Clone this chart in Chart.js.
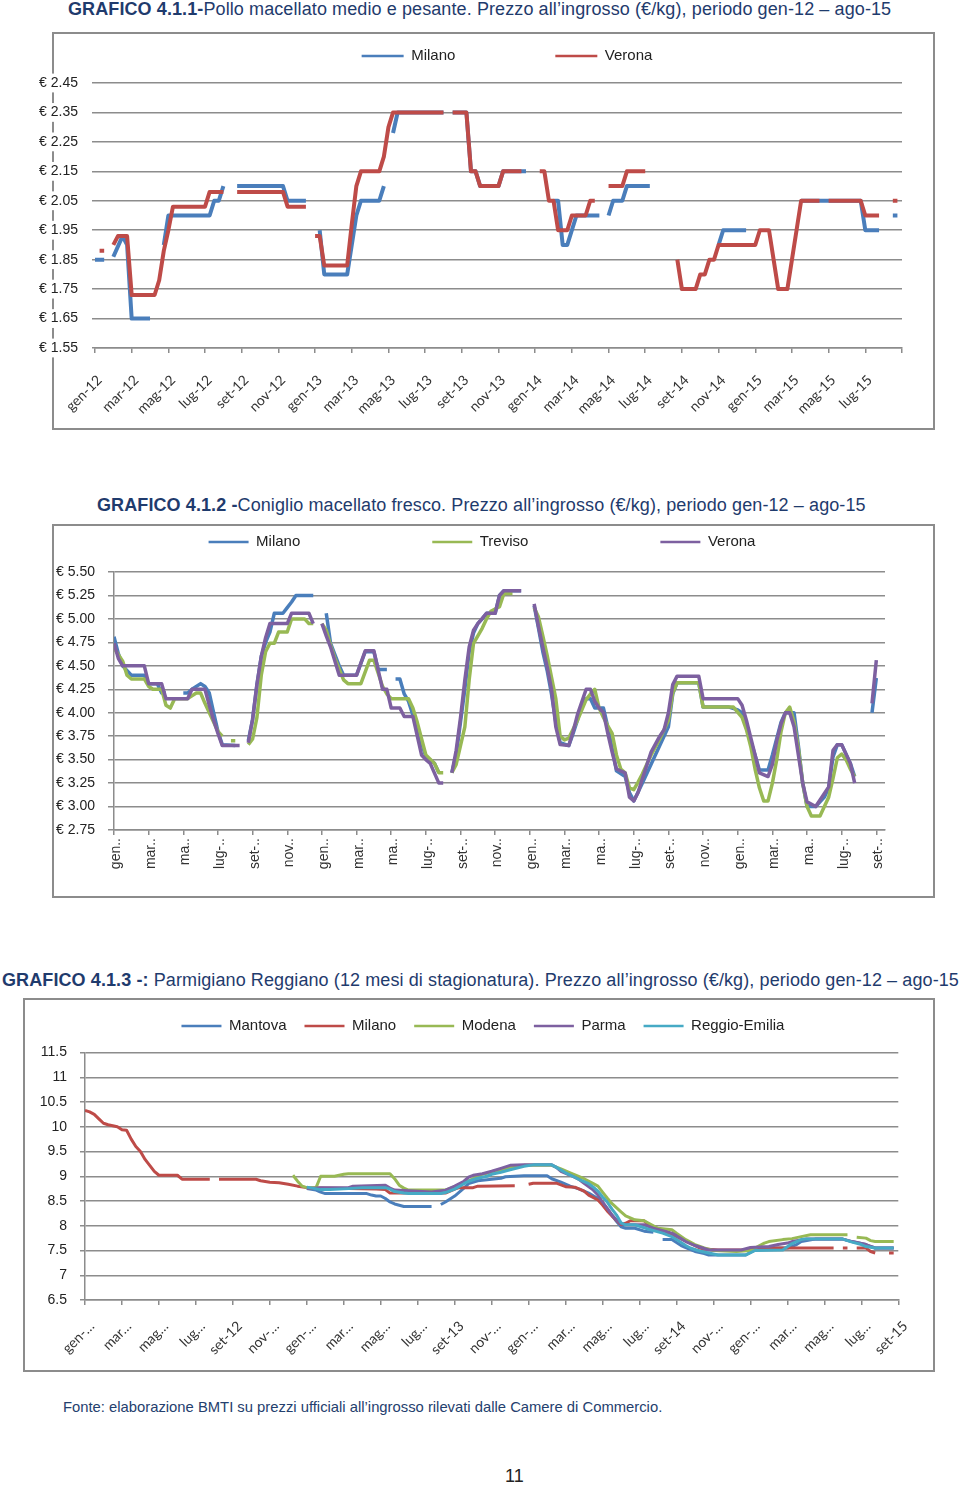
<!DOCTYPE html>
<html lang="it">
<head>
<meta charset="utf-8">
<title>Grafici 4.1.1 - 4.1.3</title>
<script src="https://cdn.jsdelivr.net/npm/chart.js@4.4.1/dist/chart.umd.min.js"></script>
<style>
  body { margin: 0; width: 960px; height: 1486px; position: relative; background: #fff;
         font-family: "Liberation Sans", Arial, sans-serif; }
  .titolo { position: absolute; font-size: 18px; letter-spacing: 0.1px; line-height: 20px; color: #1f3b6d; white-space: nowrap; }
  .riquadro { position: absolute; border: 2px solid #8c8c8c; box-sizing: border-box; }
  canvas { position: absolute; }
  .fonte { position: absolute; left: 63px; top: 1398px; font-size: 14.8px; line-height: 18px; color: #24406e; white-space: nowrap; }
  .pagina { position: absolute; left: 505px; top: 1465px; font-size: 18px; line-height: 22px; color: #222; }
</style>
</head>
<body>

<div class="titolo" style="left:68px;top:-1px"><b>GRAFICO 4.1.1-</b>Pollo macellato medio e pesante. Prezzo all’ingrosso (€/kg), periodo gen-12 – ago-15</div>
<div class="riquadro" style="left:52px;top:32px;width:883px;height:398px"></div>
<canvas id="grafico1" width="903" height="394" style="left:30px;top:34px"></canvas>

<div class="titolo" style="left:97px;top:495px"><b>GRAFICO 4.1.2 -</b>Coniglio macellato fresco. Prezzo all’ingrosso (€/kg), periodo gen-12 – ago-15</div>
<div class="riquadro" style="left:52px;top:524px;width:883px;height:374px"></div>
<canvas id="grafico2" width="879" height="370" style="left:54px;top:526px"></canvas>

<div class="titolo" style="left:2px;top:970px"><b>GRAFICO 4.1.3 -:</b> Parmigiano Reggiano (12 mesi di stagionatura). Prezzo all’ingrosso (€/kg), periodo gen-12 – ago-15</div>
<div class="riquadro" style="left:23px;top:998px;width:912px;height:374px"></div>
<canvas id="grafico3" width="908" height="370" style="left:25px;top:1000px"></canvas>

<div class="fonte">Fonte: elaborazione BMTI su prezzi ufficiali all’ingrosso rilevati dalle Camere di Commercio.</div>
<div class="pagina">11</div>

<script>
// asse x in settimane da gen-12 (4 settimane per mese); coppie [settimana, €/kg], null = dato mancante

const mesiG1 = ['gen-12', 'mar-12', 'mag-12', 'lug-12', 'set-12', 'nov-12',
  'gen-13', 'mar-13', 'mag-13', 'lug-13', 'set-13', 'nov-13',
  'gen-14', 'mar-14', 'mag-14', 'lug-14', 'set-14', 'nov-14',
  'gen-15', 'mar-15', 'mag-15', 'lug-15'];
const mesiG2 = ['gen..', 'mar..', 'ma..', 'lug-..', 'set-..', 'nov..',
  'gen..', 'mar..', 'ma..', 'lug-..', 'set-..', 'nov..',
  'gen..', 'mar..', 'ma..', 'lug-..', 'set-..', 'nov..',
  'gen..', 'mar..', 'ma..', 'lug-..', 'set-..'];
const mesiG3 = ['gen-…', 'mar…', 'mag…', 'lug…', 'set-12', 'nov-…',
  'gen-…', 'mar…', 'mag…', 'lug…', 'set-13', 'nov-…',
  'gen-…', 'mar…', 'mag…', 'lug…', 'set-14', 'nov-…',
  'gen-…', 'mar…', 'mag…', 'lug…', 'set-15'];

// GRAFICO 4.1.1 - pollo
const polloMilano = [[0,1.85],[2,1.85],[3,null],[4,1.86],[6,1.93],[7,1.90],[8,1.65],[12,1.65],[13,null],
  [15,1.90],[16,2.00],[25,2.00],[26,2.05],[27,2.05],[28,2.10],[29,null],
  [31,2.10],[41,2.10],[42,2.05],[46,2.05],[47,null],
  [49,1.95],[50,1.80],[55,1.80],[57,2.00],[58,2.05],[62,2.05],[63,2.10],[64,null],
  [65,2.28],[66,2.35],[76,2.35],[77,null],[78,2.35],[81,2.35],[82,2.15],[83,2.15],[84,2.10],[88,2.10],[89,2.15],[94,2.15],[95,null],
  [100,2.05],[101,2.05],[102,1.90],[103,1.90],[105,2.00],[110,2.00],[111,null],
  [112,2.00],[113,2.05],[115,2.05],[116,2.10],[121,2.10],[122,null],
  [136,1.90],[137,1.95],[142,1.95],[143,null],
  [154,2.05],[167,2.05],[168,1.95],[171,1.95],[172,null],[174,2.00],[175,2.00]];
const polloVerona = [[1,1.88],[2,1.88],[3,null],[4,1.90],[5,1.93],[7,1.93],[8,1.73],[13,1.73],[14,1.78],[15,1.88],[16,1.95],[17,2.03],[24,2.03],[25,2.08],[28,2.08],[29,null],
  [31,2.08],[41,2.08],[42,2.03],[46,2.03],[47,null],
  [48,1.93],[49,1.93],[50,1.83],[55,1.83],[56,1.97],[57,2.10],[58,2.15],[62,2.15],[63,2.20],[64,2.30],[65,2.35],[76,2.35],[77,null],
  [78,2.35],[81,2.35],[82,2.15],[83,2.15],[84,2.10],[88,2.10],[89,2.15],[93,2.15],[94,null],
  [97,2.15],[98,2.15],[99,2.05],[100,2.05],[101,1.95],[103,1.95],[104,2.00],[107,2.00],[108,2.05],[109,2.05],[110,null],
  [112,2.10],[115,2.10],[116,2.15],[120,2.15],[121,null],
  [127,1.85],[128,1.75],[131,1.75],[132,1.80],[133,1.80],[134,1.85],[135,1.85],[136,1.90],[144,1.90],[145,1.95],[147,1.95],[148,1.85],[149,1.75],[151,1.75],[152,1.85],[153,1.95],[154,2.05],[158,2.05],[159,null],
  [160,2.05],[167,2.05],[168,2.00],[171,2.00],[172,null],[174,2.05],[175,2.05]];

// GRAFICO 4.1.2 - coniglio
const coniglioMilano = [[0,4.81],[1,4.63],[2,4.50],[4,4.40],[7,4.40],[8,4.31],[10,4.31],[11,4.21],[12,4.21],[13,null],
  [16,4.21],[17,4.21],[18,4.25],[20,4.31],[21,4.28],[22,4.21],[23,4.00],[24,3.80],[25,3.66],[28,3.65],[29,null],
  [31,3.70],[32,3.93],[33,4.30],[34,4.60],[35,4.75],[36,4.86],[37,5.06],[39,5.06],[40,5.12],[41,5.18],[42,5.25],[46,5.25],[47,null],
  [49,5.06],[50,4.74],[51,4.62],[52,4.50],[53,4.40],[56,4.40],[58,4.65],[60,4.65],[61,4.46],[63,4.46],[64,null],
  [65,4.36],[66,4.36],[67,4.20],[68,4.12],[70,3.83],[72,3.53],[74,3.46],[75,3.36],[76,null],
  [78,3.36],[79,3.55],[80,3.90],[81,4.25],[82,4.65],[83,4.85],[84,4.95],[85,5.00],[86,5.06],[88,5.06],[89,5.25],[90,5.30],[94,5.30],[95,null],
  [97,5.14],[98,4.90],[99,4.65],[100,4.45],[101,4.20],[102,3.90],[103,3.68],[105,3.65],[106,3.78],[107,3.92],[108,4.10],[109,4.15],[110,4.15],[111,4.05],[113,4.05],
  [114,3.85],[115,3.62],[116,3.38],[118,3.32],[119,3.15],[120,3.06],[122,3.25],[124,3.45],[126,3.65],[128,3.85],[129,4.20],[130,4.32],[135,4.32],[136,4.06],[142,4.06],
  [144,4.03],[145,4.00],[146,3.85],[148,3.55],[149,3.39],[151,3.39],[152,3.55],[154,3.90],[155,4.00],[157,4.00],[158,3.65],[159,3.25],[160,3.00],[162,3.00],
  [164,3.10],[165,3.20],[166,3.53],[167,3.66],[168,3.66],[170,3.46],[171,3.32],[172,null],[175,4.00],[176,4.37]];
const coniglioTreviso = [[0,4.69],[2,4.55],[3,4.40],[4,4.36],[7,4.36],[8,4.28],[9,4.25],[11,4.25],[12,4.08],[13,4.05],[14,4.15],[17,4.15],[19,4.21],[20,4.21],[21,4.10],[23,3.90],[24,3.80],[25,3.75],[26,null],
  [27,3.70],[28,3.70],[29,null],
  [31,3.66],[32,3.72],[33,3.95],[34,4.40],[35,4.65],[36,4.74],[37,4.74],[38,4.86],[40,4.86],[41,5.00],[44,5.00],[45,4.95],[46,4.95],[47,null],
  [48,4.95],[49,4.88],[50,4.72],[51,4.58],[53,4.35],[54,4.31],[57,4.31],[59,4.56],[60,4.56],[61,4.42],[62,4.28],[63,4.20],[64,4.15],[68,4.15],[69,4.05],[70,3.90],[72,3.55],[74,3.46],[75,3.36],[76,3.36],[77,null],
  [78,3.36],[79,3.45],[80,3.65],[81,3.85],[82,4.35],[83,4.74],[84,4.82],[85,4.90],[86,5.00],[87,5.08],[89,5.13],[90,5.27],[92,5.27],[93,null],
  [97,5.12],[98,5.02],[99,4.82],[100,4.61],[101,4.38],[102,4.15],[103,3.75],[104,3.71],[105,3.73],[107,3.92],[109,4.14],[110,4.20],[111,4.25],[112,4.05],[113,3.95],
  [114,3.86],[115,3.78],[116,3.55],[117,3.40],[118,3.36],[119,3.20],[120,3.18],[121,3.26],[122,3.35],[124,3.55],[126,3.72],[128,3.92],[129,4.21],[130,4.32],[135,4.32],
  [136,4.06],[143,4.06],[145,3.95],[146,3.82],[147,3.64],[148,3.40],[149,3.20],[150,3.06],[151,3.06],[152,3.25],[153,3.50],[154,3.80],[155,4.00],[156,4.06],
  [157,3.90],[158,3.62],[159,3.25],[160,3.00],[161,2.90],[163,2.90],[164,3.00],[165,3.10],[166,3.30],[167,3.52],[168,3.56],[169,3.50],[170,3.40],[171,3.32]];
const coniglioVerona = [[0,4.74],[1,4.58],[2,4.50],[7,4.50],[8,4.31],[11,4.31],[12,4.15],[17,4.15],[18,4.25],[21,4.25],[22,4.08],[23,3.92],[24,3.78],[25,3.65],[29,3.65],[30,null],
  [31,3.68],[32,3.93],[33,4.30],[34,4.60],[35,4.80],[36,4.95],[40,4.95],[41,5.06],[45,5.06],[46,4.95],[47,null],
  [48,4.95],[49,4.82],[50,4.70],[52,4.40],[56,4.40],[58,4.66],[60,4.66],[62,4.25],[63,4.25],[64,4.05],[66,4.05],[67,3.96],[69,3.96],[71,3.55],[72,3.50],[73,3.46],[75,3.25],[76,3.25],[77,null],
  [78,3.36],[79,3.60],[80,3.95],[81,4.35],[82,4.70],[83,4.88],[84,4.95],[86,5.06],[88,5.06],[89,5.25],[90,5.30],[94,5.30],[95,null],
  [97,5.16],[98,4.92],[99,4.70],[100,4.49],[101,4.25],[102,3.85],[103,3.66],[105,3.65],[106,3.80],[107,3.98],[109,4.25],[110,4.25],[111,4.12],[112,4.05],[113,4.00],
  [114,3.78],[115,3.58],[116,3.40],[118,3.36],[119,3.10],[120,3.06],[121,3.15],[122,3.30],[124,3.58],[126,3.75],[127,3.82],[128,4.00],[129,4.30],[130,4.39],[135,4.39],
  [136,4.15],[144,4.15],[145,4.08],[146,3.92],[148,3.55],[149,3.36],[151,3.32],[152,3.45],[153,3.70],[154,3.88],[155,4.00],[156,4.00],[157,3.85],[158,3.55],[159,3.25],
  [160,3.05],[162,3.00],[164,3.14],[165,3.21],[166,3.60],[167,3.66],[168,3.66],[170,3.46],[171,3.25],[172,null],[175,4.10],[176,4.56]];

// GRAFICO 4.1.3 - parmigiano reggiano
const parmigianoMantova = [[48,8.75],[50,8.72],[51,8.68],[52,8.65],[61,8.65],[62,8.62],[63,8.60],[64,8.60],[65,8.55],[66,8.48],[67,8.44],[69,8.39],[75,8.39],[76,null],
  [77,8.43],[78,8.48],[80,8.60],[81,8.68],[82,8.76],[83,8.85],[85,8.91],[88,8.94],[90,8.96],[91,8.99],[95,9.01],[100,9.01],[101,8.95],[103,8.88],[105,8.80],[107,8.74],
  [109,8.66],[111,8.55],[112,8.46],[113,8.35],[114,8.22],[115,8.09],[116,7.98],[117,7.95],[119,7.95],[121,7.89],[123,7.87],[124,null],
  [125,7.72],[127,7.72],[129,7.60],[130,7.56],[132,7.48],[134,7.44],[135,7.41],[143,7.41],[144,7.46],[145,7.51],[147,7.55],[152,7.55],[154,7.62],[155,7.68],[158,7.73],
  [164,7.73],[166,7.68],[168,7.64],[169,7.62],[170,7.58],[171,7.55],[175,7.55]];
const parmigianoMilano = [[0,10.33],[1,10.30],[2,10.25],[3,10.16],[4,10.07],[5,10.04],[6,10.02],[7,10.00],[8,9.94],[9,9.93],[10,9.75],[11,9.60],[12,9.50],[13,9.34],[14,9.22],[15,9.10],[16,9.02],[20,9.02],[21,8.94],[27,8.94],[28,null],
  [29,8.94],[37,8.94],[38,8.91],[40,8.88],[42,8.87],[44,8.84],[46,8.80],[48,8.77],[63,8.74],[65,8.73],[66,8.66],[78,8.66],[80,8.74],[81,8.77],[84,8.77],[85,8.80],[93,8.81],[94,null],
  [96,8.84],[97,8.86],[102,8.86],[104,8.79],[106,8.78],[108,8.70],[109,8.62],[111,8.52],[112,8.42],[113,8.30],[114,8.20],[116,8.02],[117,8.05],[118,8.10],[121,8.10],
  [122,8.02],[123,7.95],[125,7.92],[126,7.87],[128,7.78],[131,7.65],[133,7.55],[134,7.53],[137,7.51],[145,7.51],[146,7.55],[162,7.55],[163,null],
  [164,7.55],[165,7.55],[166,null],[167,7.55],[169,7.55],[170,7.48],[171,7.45],[172,null],[174,7.45],[175,7.45]];
const parmigianoModena = [[45,9.02],[46,8.90],[47,8.80],[48,8.77],[50,8.77],[51,9.00],[54,9.00],[56,9.04],[57,9.05],[66,9.05],[67,8.95],[68,8.82],[69,8.76],[70,8.72],[78,8.72],
  [80,8.79],[82,8.86],[84,8.95],[86,9.04],[88,9.08],[90,9.12],[92,9.18],[95,9.22],[101,9.22],[103,9.15],[105,9.07],[108,8.95],[110,8.85],[111,8.80],[112,8.68],[113,8.56],
  [114,8.45],[116,8.28],[117,8.20],[119,8.12],[121,8.10],[122,8.05],[124,7.95],[127,7.92],[128,7.85],[130,7.72],[132,7.62],[134,7.55],[136,7.50],[141,7.48],[144,7.50],
  [145,7.55],[147,7.65],[148,7.68],[151,7.72],[153,7.74],[155,7.78],[157,7.82],[165,7.82],[166,null],[167,7.77],[169,7.75],[170,7.70],[171,7.68],[175,7.68]];
const parmigianoParma = [[48,8.75],[51,8.77],[57,8.77],[58,8.80],[65,8.82],[66,8.76],[67,8.72],[75,8.68],[78,8.72],[80,8.80],[82,8.90],[83,8.98],[84,9.02],[86,9.05],[88,9.10],
  [90,9.16],[92,9.22],[95,9.23],[101,9.23],[102,9.18],[103,9.10],[105,9.02],[107,8.93],[108,8.86],[110,8.72],[111,8.62],[112,8.48],[113,8.35],[114,8.22],[115,8.12],
  [116,8.04],[117,8.02],[121,8.02],[123,7.95],[125,7.90],[127,7.85],[128,7.80],[129,7.74],[130,7.68],[132,7.60],[134,7.54],[135,7.51],[142,7.51],[144,7.56],[148,7.58],
  [150,7.62],[152,7.65],[153,7.68],[156,7.73],[164,7.73],[166,7.68],[169,7.62],[171,7.55],[175,7.55]];
const parmigianoReggio = [[48,8.78],[51,8.73],[53,8.73],[57,8.75],[60,8.77],[65,8.77],[66,8.74],[67,8.69],[69,8.66],[70,8.65],[77,8.65],[78,8.67],[80,8.74],[82,8.85],[83,8.90],
  [85,8.96],[87,9.00],[88,9.04],[90,9.08],[92,9.13],[95,9.20],[97,9.23],[101,9.23],[102,9.18],[104,9.07],[106,8.98],[107,8.93],[109,8.85],[110,8.78],[111,8.70],[112,8.58],
  [113,8.48],[114,8.34],[115,8.22],[116,8.06],[117,8.02],[119,8.02],[122,7.93],[125,7.85],[127,7.78],[128,7.72],[130,7.60],[131,7.55],[133,7.49],[135,7.45],[137,7.41],
  [143,7.41],[145,7.50],[151,7.51],[153,7.64],[155,7.72],[156,7.73],[164,7.73],[166,7.67],[168,7.62],[169,7.58],[171,7.55],[175,7.55]];

const GRIGIO = '#8c8c8c';
const NESSUNO = 'rgba(0,0,0,0)';
const BLU = '#4a7ebb', ROSSO = '#be4b48', VERDE = '#98b954', VIOLA = '#7d60a0', AZZURRO = '#46aac5';

Chart.defaults.font.family = "'Liberation Sans', Arial, sans-serif";
Chart.defaults.color = '#222';

// l'ultima serie va disegnata sopra le altre, come in Excel
function serie(label, dati, colore, spessore, ordine) {
  return {
    label: label,
    data: dati.map(([x, y]) => ({ x: x, y: y })),
    borderColor: colore,
    backgroundColor: colore,
    borderWidth: spessore,
    borderJoinStyle: 'round',
    pointRadius: 0,
    pointHoverRadius: 0,
    pointBorderWidth: 2.5,
    tension: 0,
    spanGaps: false,
    order: ordine
  };
}

function legenda(spazio, linea) {
  return {
    position: 'top',
    reverse: true,
    labels: { usePointStyle: true, pointStyle: 'line', pointStyleWidth: linea, padding: spazio, color: '#222', font: { size: 15 } }
  };
}

// tacche ogni 8 settimane (2 mesi); le etichette stanno 'scarto' settimane più in là
function tacche(fine, scarto, limite) {
  return s => {
    const t = [];
    for (let v = 0; v <= fine; v += 8) {
      t.push({ value: v });
      if (scarto && v + scarto <= limite) t.push({ value: v + scarto });
    }
    s.ticks = t;
  };
}
function etichetta(mesi, scarto) {
  return v => ((v - scarto) % 8 === 0 ? (mesi[(v - scarto) / 8] || '') : '');
}
function coloreTacca(c) {
  return (c.tick && c.tick.value % 8 === 0) ? GRIGIO : NESSUNO;
}

// altezza fissa della legenda e spostamento, per metterla dove sta nell'originale
const legendaSpostata = {
  id: 'legendaSpostata',
  afterInit(chart, args, opts) {
    const fit = chart.legend.fit;
    chart.legend.fit = function () { fit.call(this); this.height = opts.altezza; };
  },
  afterLayout(chart, args, opts) {
    const l = chart.legend;
    l.left += opts.dx;
    l.right += opts.dx;
    l.top += opts.dy;
  }
};

const base = { responsive: false, animation: false, events: [] };

new Chart(document.getElementById('grafico1'), {
  type: 'line',
  data: {
    datasets: [
      serie('Milano', polloMilano, BLU, 4, 2),
      serie('Verona', polloVerona, ROSSO, 4, 1)
    ]
  },
  options: {
    ...base,
    layout: { padding: { left: 0, right: 31, top: 0, bottom: 0 } },
    scales: {
      x: {
        type: 'linear', min: 0, max: 176,
        afterBuildTicks: tacche(176, 1, 170),
        afterFit: s => { s.height = 80; },
        border: { color: GRIGIO, width: 1.5 },
        grid: { drawOnChartArea: false, tickLength: 5, lineWidth: 1.5, color: coloreTacca },
        ticks: { autoSkip: false, minRotation: 45, maxRotation: 45, padding: 19, color: '#333',
                 font: { family: 'Lato', size: 14 }, callback: etichetta(mesiG1, 1) }
      },
      y: {
        min: 1.55, max: 2.45,
        afterFit: s => { s.width = 65; },
        border: { display: false },
        grid: { color: GRIGIO, lineWidth: 1.5, tickLength: 3 },
        ticks: { stepSize: 0.1, padding: 14, font: { size: 14 },
                 showLabelBackdrop: true, backdropColor: '#fff', backdropPadding: 1,
                 callback: v => '€ ' + v.toFixed(2) }
      }
    },
    plugins: {
      legend: legenda(100, 42),
      tooltip: { enabled: false },
      legendaSpostata: { altezza: 49, dx: 41, dy: -85.5 }
    }
  },
  plugins: [legendaSpostata]
});

new Chart(document.getElementById('grafico2'), {
  type: 'line',
  data: {
    datasets: [
      serie('Milano', coniglioMilano, BLU, 3.5, 3),
      serie('Treviso', coniglioTreviso, VERDE, 3.5, 2),
      serie('Verona', coniglioVerona, VIOLA, 3.5, 1)
    ]
  },
  options: {
    ...base,
    layout: { padding: { left: 0, right: 48, top: 0, bottom: 0 } },
    scales: {
      x: {
        type: 'linear', min: 0, max: 178,
        afterBuildTicks: tacche(176, 0.5, 178),
        afterFit: s => { s.height = 66; },
        border: { color: GRIGIO, width: 1.5 },
        grid: { drawOnChartArea: false, tickLength: 5, lineWidth: 1.5, color: coloreTacca },
        ticks: { autoSkip: false, minRotation: 90, maxRotation: 90, padding: 3, color: '#333',
                 font: { size: 14 }, callback: etichetta(mesiG2, 0.5) }
      },
      y: {
        min: 2.75, max: 5.5,
        afterFit: s => { s.width = 60; },
        border: { color: GRIGIO, width: 1.5 },
        grid: { color: GRIGIO, lineWidth: 1.5, tickLength: 6 },
        ticks: { stepSize: 0.25, padding: 13, font: { size: 14 }, callback: v => '€ ' + v.toFixed(2) }
      }
    },
    plugins: {
      legend: legenda(132, 40),
      tooltip: { enabled: false },
      legendaSpostata: { altezza: 46, dx: 12.5, dy: -123.5 }
    }
  },
  plugins: [legendaSpostata]
});

new Chart(document.getElementById('grafico3'), {
  type: 'line',
  data: {
    datasets: [
      serie('Mantova', parmigianoMantova, BLU, 3, 5),
      serie('Milano', parmigianoMilano, ROSSO, 3, 4),
      serie('Modena', parmigianoModena, VERDE, 3, 3),
      serie('Parma', parmigianoParma, VIOLA, 3, 2),
      serie('Reggio-Emilia', parmigianoReggio, AZZURRO, 3, 1)
    ]
  },
  options: {
    ...base,
    layout: { padding: { left: 0, right: 34.7, top: 0, bottom: 0 } },
    scales: {
      x: {
        type: 'linear', min: 0, max: 176,
        afterBuildTicks: tacche(176, 1.5, 178),
        afterFit: s => { s.height = 70; },
        border: { color: GRIGIO, width: 1.5 },
        grid: { drawOnChartArea: false, tickLength: 5, lineWidth: 1.5, color: coloreTacca },
        ticks: { autoSkip: false, minRotation: 45, maxRotation: 45, padding: 13, color: '#333',
                 font: { family: 'Lato', size: 14 }, callback: etichetta(mesiG3, 1.5) }
      },
      y: {
        min: 6.5, max: 11.5,
        afterFit: s => { s.width = 60; },
        border: { color: GRIGIO, width: 1.5 },
        grid: { color: GRIGIO, lineWidth: 1.5, tickLength: 5 },
        ticks: { stepSize: 0.5, padding: 13, font: { size: 14 }, callback: v => String(+v.toFixed(1)) }
      }
    },
    plugins: {
      legend: legenda(18, 40),
      tooltip: { enabled: false },
      legendaSpostata: { altezza: 52.5, dx: 21.3, dy: 0.5 }
    }
  },
  plugins: [legendaSpostata]
});
</script>
</body>
</html>
